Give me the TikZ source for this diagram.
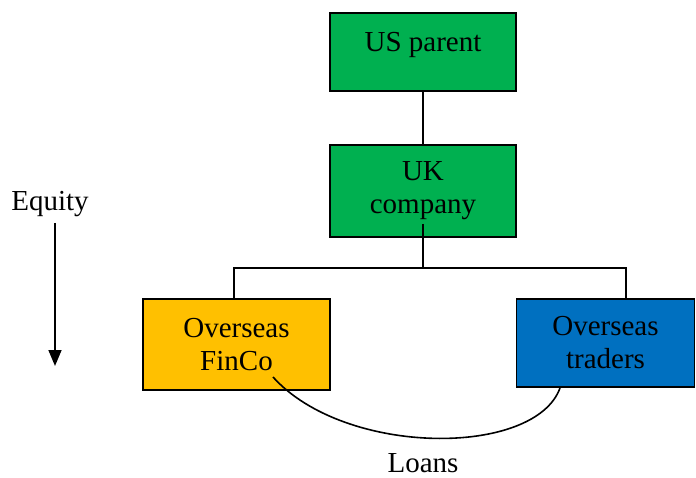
\documentclass[tikz,border=0pt]{standalone}
\usepackage{fontspec}
\setmainfont{Liberation Serif}
\usepackage{xcolor}
\usepackage{tikz}
\usetikzlibrary{arrows.meta}
\definecolor{boxgreen}{HTML}{00B050}
\definecolor{boxorange}{HTML}{FFC000}
\definecolor{boxblue}{HTML}{0070C0}
\tikzset{
 entity/.style={draw=black, line width=1.5pt, align=center, inner sep=0pt,
   font=\fontsize{29}{33}\selectfont},
 link/.style={black, line width=1.6pt}
}

\begin{document}
\begin{tikzpicture} [x=1pt, y=-1pt]
\useasboundingbox (0,0) rectangle (696,478);
\node[entity, fill=boxgreen, minimum width=186pt, minimum height=78pt,
  text height=20pt, text depth=20pt] (usparent) at (423,52) {US parent};
\node[entity, fill=boxgreen, minimum width=186pt, minimum height=92pt] (ukco) at (423,191) {UK\\company};
\node[entity, fill=boxorange, minimum width=187pt, minimum height=91pt] (finco) at (236.5,344.5) {Overseas\\FinCo};
\node[entity, fill=boxblue, minimum width=178pt, minimum height=88pt] (traders) at (605.5,343) {Overseas\\traders};
\coordinate (ukstem) at (423,224);
\coordinate (junc) at (423,268);
\coordinate (fincotop) at (234,299);
\coordinate (traderstop) at (626,299);
\coordinate (loanfrom) at (273,377);
\coordinate (loanto) at (560,388);
\draw[link] (usparent) -- (ukco);
\draw[link] (ukstem) -- (junc);
\draw[link] (fincotop) |- (junc) -| (traderstop);
\draw[link] (loanfrom) .. controls (345,457) and (535,457) .. (loanto);
\node[font=\fontsize{29}{33}\selectfont, inner sep=0pt] (loans) at (423,463) {Loans};
% equity direction
\node[font=\fontsize{29}{33}\selectfont] (equity) at (50,204) {Equity};
\coordinate (eqtop) at (55,223);
\coordinate (eqtip) at (55,366);
\draw[link, -{Triangle[width=13pt,length=16pt]}] (eqtop) -- (eqtip);
\end{tikzpicture}
\end{document}
